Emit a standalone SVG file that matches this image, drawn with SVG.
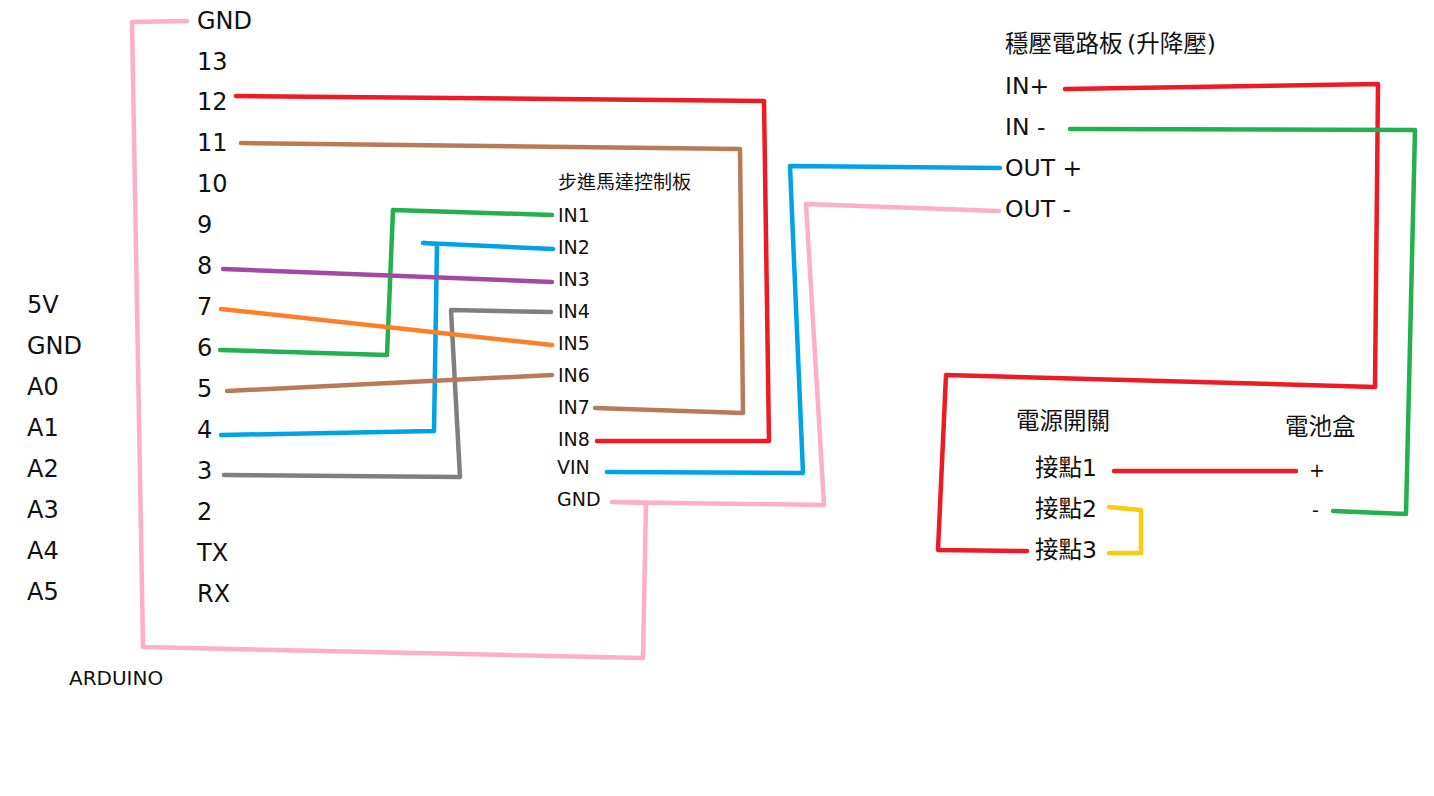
<svg xmlns="http://www.w3.org/2000/svg" width="1434" height="796" viewBox="0 0 1434 796">
<style>
text{font-family:"DejaVu Sans","Noto Sans CJK TC",sans-serif;fill:#111}
.a{font-size:23.5px}.b{font-size:19px}.p{font-size:24px}.d{font-size:20px}
#connectors polyline{fill:none;stroke-width:4.5;stroke-linejoin:round;stroke-linecap:round}
.pk{stroke:#ffaec9}.rd{stroke:#ed1c24}.br{stroke:#b97a57}.bl{stroke:#00a2e8}.gn{stroke:#22b14c}.pu{stroke:#a349a4}.or{stroke:#ff7f27}.gy{stroke:#7f7f7f}.ye{stroke:#ffc90e}
</style>
<rect width="1434" height="796" fill="#fff"/>
<g id="connectors">
<polyline class="pk" points="187,21 132,22 143,647 643,658 646,503 612,502 824,505 806,204 999,211"/>
<polyline class="rd" points="236,96 764,101 769,441 597,441"/>
<polyline class="br" points="241,143 740,149 743,413 595,408"/>
<polyline class="bl" points="1000,168 790,166 803,473 607,472"/>
<polyline class="gn" points="552,215 393,210 387,355 220,350"/>
<polyline class="bl" points="553,249 423,243 437,244 434,431 221,435"/>
<polyline class="pu" points="223,269 552,282"/>
<polyline class="gy" points="551,312 451,310 460,477 224,475"/>
<polyline class="or" points="221,309 552,345"/>
<polyline class="br" points="227,391 552,375"/>
<polyline class="rd" points="1065,89 1378,84 1375,387 946,375 938,550 1027,551"/>
<polyline class="gn" points="1070,129 1415,130 1406,514 1333,511"/>
<polyline class="rd" points="1114,471 1296,471"/>
<polyline class="ye" points="1109,507 1141,510 1141,553 1109,553"/>
</g>
<g id="arduino">
<text class="p" x="197" y="29">GND</text><text class="p" x="197" y="70">13</text><text class="p" x="197" y="110">12</text><text class="p" x="197" y="151">11</text><text class="p" x="197" y="192">10</text><text class="p" x="197" y="233">9</text><text class="p" x="197" y="274">8</text><text class="p" x="197" y="315">7</text><text class="p" x="197" y="356">6</text><text class="p" x="197" y="397">5</text><text class="p" x="197" y="438">4</text><text class="p" x="197" y="479">3</text><text class="p" x="197" y="520">2</text><text class="p" x="197" y="561">TX</text><text class="p" x="197" y="602">RX</text>
<text class="p" x="27" y="313">5V</text><text class="p" x="27" y="354">GND</text><text class="p" x="27" y="395">A0</text><text class="p" x="27" y="436">A1</text><text class="p" x="27" y="477">A2</text><text class="p" x="27" y="518">A3</text><text class="p" x="27" y="559">A4</text><text class="p" x="27" y="600">A5</text>
<text class="d" x="69" y="685">ARDUINO</text>
</g>
<g id="stepper">
<text class="b" x="558" y="189">步進馬達控制板</text>
<text class="b" x="558" y="222">IN1</text><text class="b" x="558" y="254">IN2</text><text class="b" x="558" y="286">IN3</text><text class="b" x="558" y="318">IN4</text><text class="b" x="558" y="350">IN5</text><text class="b" x="558" y="382">IN6</text><text class="b" x="558" y="414">IN7</text><text class="b" x="558" y="446">IN8</text><text class="b" x="557" y="474">VIN</text><text class="b" x="557" y="506">GND</text>
</g>
<g id="regulator">
<text class="a" x="1005" y="52">穩壓電路板 <tspan dx="-3">(升降壓)</tspan></text>
<text class="a" x="1005" y="94">IN+</text><text class="a" x="1005" y="135">IN -</text><text class="a" x="1005" y="176">OUT +</text><text class="a" x="1005" y="217">OUT -</text>
</g>
<g id="switch">
<text class="a" x="1016" y="429">電源開關</text>
<text class="a" x="1035" y="476">接點1</text><text class="a" x="1035" y="517">接點2</text><text class="a" x="1035" y="558">接點3</text>
</g>
<g id="battery">
<text class="a" x="1285" y="435">電池盒</text>
<text class="b" x="1309" y="477">+</text><text class="b" x="1312" y="517">-</text>
</g>
</svg>
